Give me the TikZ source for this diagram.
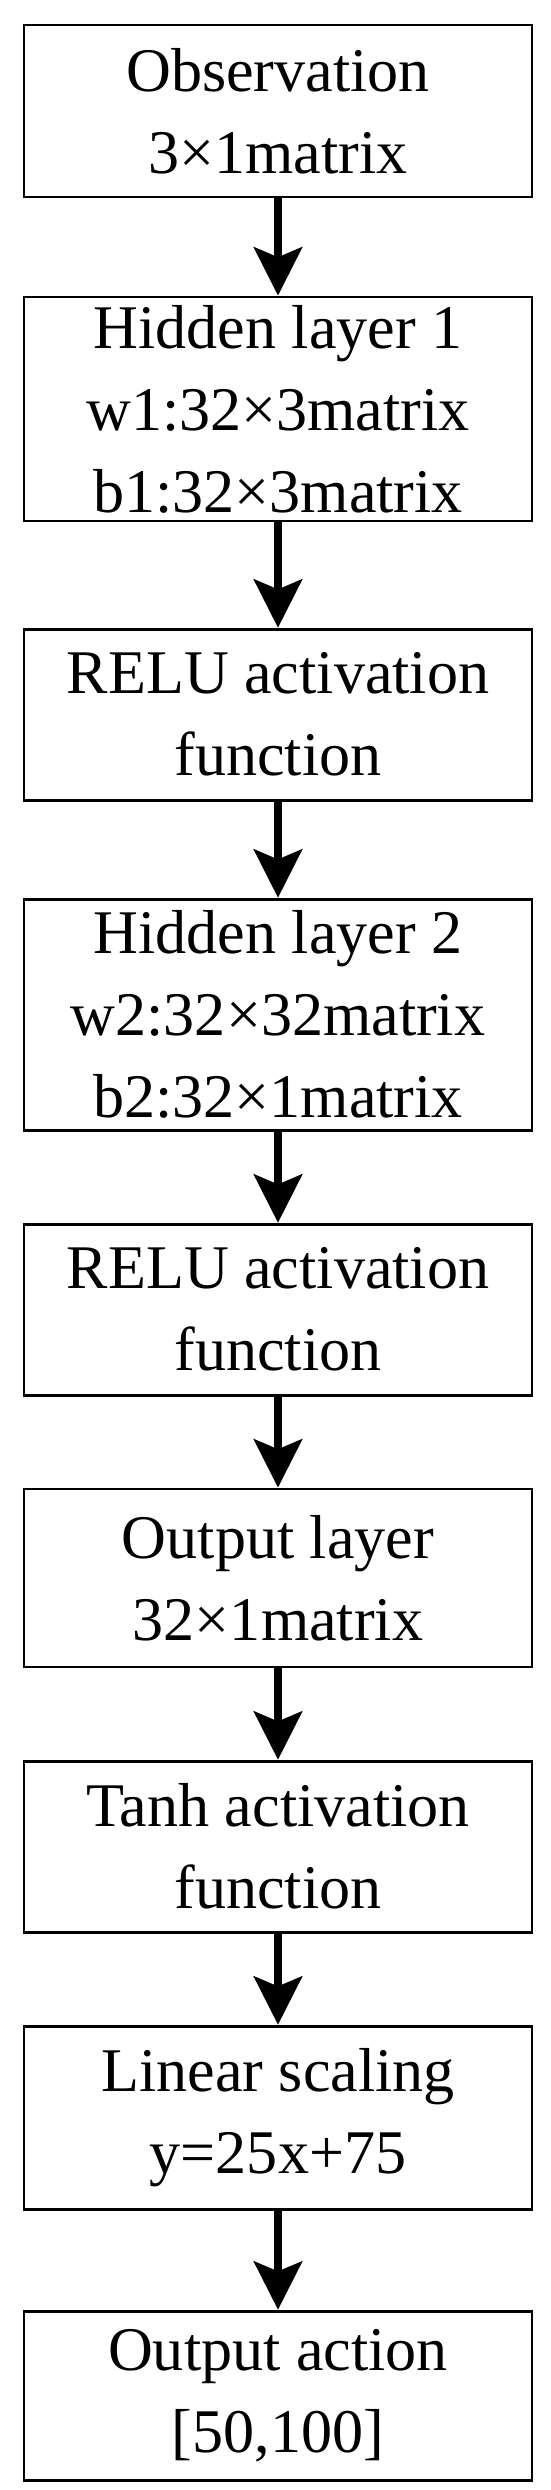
\documentclass[tikz,border=0pt]{standalone}
\usepackage{fontspec}
\setmainfont{Liberation Serif}
\usetikzlibrary{arrows.meta, positioning}

\begin{document}
\begin{tikzpicture}[>={Stealth[length=1.45cm, width=1.45cm, inset=0.3cm]},
      blk/.style={draw, line width=2.5pt, rectangle, minimum width=15.24cm,
                  inner sep=0pt, align=center,
                  font=\fontsize{53}{70}\selectfont},
      flow/.style={->, line width=6pt}]

    % page frame (keeps the margins of the original)
    \useasboundingbox (0, 0) rectangle (16.5, -74.7);

    % --- network layers, top to bottom ---
    \node[blk, minimum height=5.16cm] (obs)   at (8.34, -3.33)  {Observation\\3×1matrix};
    \node[blk, minimum height=6.72cm] (hid1)  at (8.34, -12.27) {Hidden layer 1\\w1:32×3matrix\\b1:32×3matrix};
    \node[blk, minimum height=5.13cm] (relu1) at (8.34, -21.44) {RELU activation\\function};
    \node[blk, minimum height=6.93cm] (hid2)  at (8.34, -30.44) {Hidden layer 2\\w2:32×32matrix\\b2:32×1matrix};
    \node[blk, minimum height=5.13cm] (relu2) at (8.34, -39.29) {RELU activation\\function};
    \node[blk, minimum height=5.34cm] (outl)  at (8.34, -47.34) {Output layer\\32×1matrix};
    \node[blk, minimum height=5.13cm] (tanh)  at (8.34, -55.40) {Tanh activation\\function};
    \node[blk, minimum height=5.49cm] (scal)  at (8.34, -63.53) {Linear scaling\\y=25x+75};
    \node[blk, minimum height=5.07cm] (act)   at (8.34, -71.87) {Output action\\{[50,100]}};

    % --- forward pass arrows ---
    \draw[flow] (obs)   -- (hid1);
    \draw[flow] (hid1)  -- (relu1);
    \draw[flow] (relu1) -- (hid2);
    \draw[flow] (hid2)  -- (relu2);
    \draw[flow] (relu2) -- (outl);
    \draw[flow] (outl)  -- (tanh);
    \draw[flow] (tanh)  -- (scal);
    \draw[flow] (scal)  -- (act);

\end{tikzpicture}
\end{document}
